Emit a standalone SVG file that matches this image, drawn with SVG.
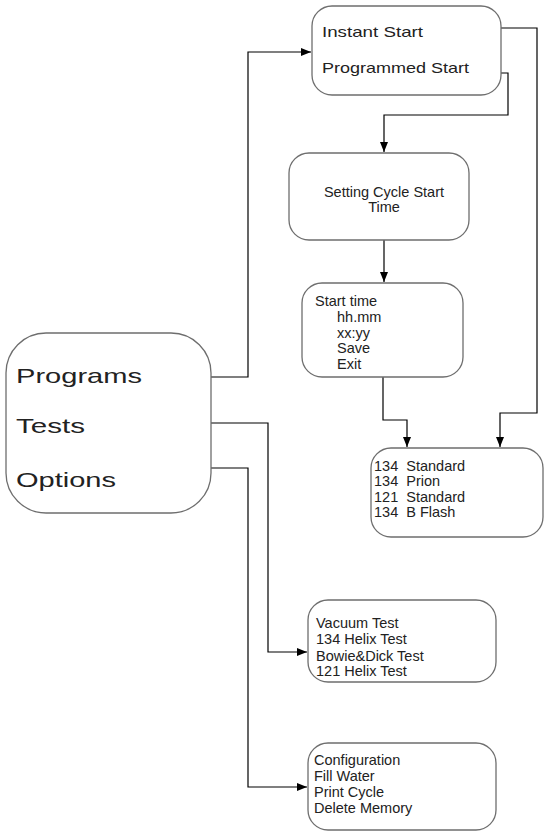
<svg xmlns="http://www.w3.org/2000/svg" width="545" height="833" viewBox="0 0 545 833">
<defs>
<marker id="arr" markerWidth="10" markerHeight="8" refX="10" refY="4" orient="auto" markerUnits="userSpaceOnUse">
<path d="M0,0 L10,4 L0,8 Z" fill="#000"/>
</marker>
<style>
.box{fill:#fff;stroke:#6e6e6e;stroke-width:1.3}
.t{font-family:"Liberation Sans",Arial,sans-serif;font-size:14.5px;fill:#222;white-space:pre}
.big{font-family:"Liberation Sans",Arial,sans-serif;font-size:21px;fill:#222}
.c{fill:none;stroke:#000;stroke-width:1.2}
</style>
</defs>
<rect width="545" height="833" fill="#fff"/>
<g id="connectors">
<path class="c" d="M211,377 H248 V52 H311" marker-end="url(#arr)"/>
<path class="c" d="M501,28 H537 V413 H500 V447" marker-end="url(#arr)"/>
<path class="c" d="M501,73 H508 V115 H384 V152" marker-end="url(#arr)"/>
<path class="c" d="M384,240 V282" marker-end="url(#arr)"/>
<path class="c" d="M383,377 V420 H407 V447" marker-end="url(#arr)"/>
<path class="c" d="M211,423 H268 V652 H307" marker-end="url(#arr)"/>
<path class="c" d="M211,468 H248 V787 H307" marker-end="url(#arr)"/>
</g>
<g id="main">
<rect class="box" x="6" y="333" width="205" height="180" rx="40"/>
<text class="big" x="16" y="383" textLength="126" lengthAdjust="spacingAndGlyphs">Programs</text>
<text class="big" x="16" y="433" textLength="69" lengthAdjust="spacingAndGlyphs">Tests</text>
<text class="big" x="16" y="487" textLength="100" lengthAdjust="spacingAndGlyphs">Options</text>
</g>
<g id="start">
<rect class="box" x="312" y="6" width="189" height="89" rx="20"/>
<text class="t" x="322" y="37" textLength="101" lengthAdjust="spacingAndGlyphs">Instant Start</text>
<text class="t" x="322" y="73" textLength="147" lengthAdjust="spacingAndGlyphs">Programmed Start</text>
</g>
<g id="setting">
<rect class="box" x="289" y="153" width="180" height="87" rx="20"/>
<text class="t" x="384" y="197" text-anchor="middle">Setting Cycle Start</text>
<text class="t" x="384" y="212" text-anchor="middle">Time</text>
</g>
<g id="starttime">
<rect class="box" x="302" y="283" width="161" height="94" rx="20"/>
<text class="t" x="315" y="306">Start time</text>
<text class="t" x="337" y="322">hh.mm</text>
<text class="t" x="337" y="338">xx:yy</text>
<text class="t" x="337" y="353">Save</text>
<text class="t" x="337" y="369">Exit</text>
</g>
<g id="programs-list">
<rect class="box" x="371" y="448" width="172" height="89" rx="20"/>
<text class="t" x="374" y="471">134  Standard</text>
<text class="t" x="374" y="486">134  Prion</text>
<text class="t" x="374" y="502">121  Standard</text>
<text class="t" x="374" y="517">134  B Flash</text>
</g>
<g id="tests-list">
<rect class="box" x="308" y="600" width="188" height="82" rx="20"/>
<text class="t" x="316" y="628">Vacuum Test</text>
<text class="t" x="316" y="644">134 Helix Test</text>
<text class="t" x="316" y="661">Bowie&amp;Dick Test</text>
<text class="t" x="316" y="676">121 Helix Test</text>
</g>
<g id="options-list">
<rect class="box" x="308" y="743" width="188" height="87" rx="20"/>
<text class="t" x="314" y="765">Configuration</text>
<text class="t" x="314" y="781">Fill Water</text>
<text class="t" x="314" y="797">Print Cycle</text>
<text class="t" x="314" y="813">Delete Memory</text>
</g>
</svg>
